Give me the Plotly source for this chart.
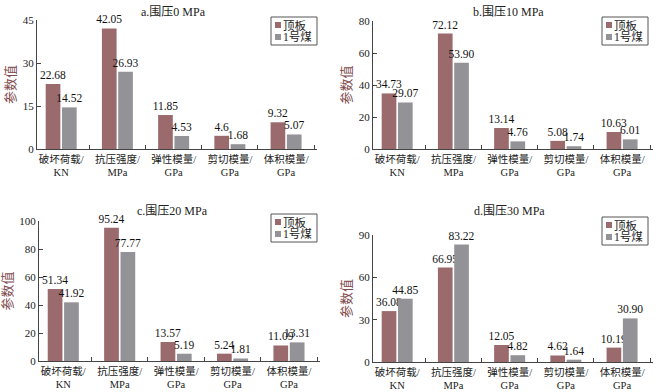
import plotly.graph_objects as go

categories = ["破坏荷载/<br>KN", "抗压强度/<br>MPa", "弹性模量/<br>GPa", "剪切模量/<br>GPa", "体积模量/<br>GPa"]
series_names = ["顶板", "1号煤"]
panel_titles = ["a.围压0 MPa", "b.围压10 MPa", "c.围压20 MPa", "d.围压30 MPa"]

roof_a = [22.68, 42.05, 11.85, 4.6, 9.32]
coal_a = [14.52, 26.93, 4.53, 1.68, 5.07]
roof_b = [34.73, 72.12, 13.14, 5.08, 10.63]
coal_b = [29.07, 53.90, 4.76, 1.74, 6.01]
roof_c = [51.34, 95.24, 13.57, 5.24, 11.09]
coal_c = [41.92, 77.77, 5.19, 1.81, 13.31]
roof_d = [36.08, 66.95, 12.05, 4.62, 10.19]
coal_d = [44.85, 83.22, 4.82, 1.64, 30.90]

roof_a_txt = ["22.68", "42.05", "11.85", "4.6", "9.32"]
coal_a_txt = ["14.52", "26.93", "4.53", "1.68", "5.07"]
roof_b_txt = ["34.73", "72.12", "13.14", "5.08", "10.63"]
coal_b_txt = ["29.07", "53.90", "4.76", "1.74", "6.01"]
roof_c_txt = ["51.34", "95.24", "13.57", "5.24", "11.09"]
coal_c_txt = ["41.92", "77.77", "5.19", "1.81", "13.31"]
roof_d_txt = ["36.08", "66.95", "12.05", "4.62", "10.19"]
coal_d_txt = ["44.85", "83.22", "4.82", "1.64", "30.90"]

y_max = [45, 80, 100, 90]
y_dtick = [15, 20, 20, 30]

W, H = 662, 392
FONT = "Liberation Serif, Noto Sans CJK SC, serif"
ROOF_COLOR = "#9a6a6c"
COAL_COLOR = "#939397"
AXIS_COLOR = "#444444"
COLORS = [ROOF_COLOR, COAL_COLOR]

# pixel layout of each panel: x0, x1, y_top, y_bottom
panels = [
    (37, 317, 20, 149),
    (373, 653, 21, 149),
    (39, 320, 221, 361),
    (373, 653, 235, 362),
]
title_pos = [(173, 12), (508, 12), (172, 211), (509, 211)]
legend_pos = [(271, 17), (602, 17), (271, 214), (602, 217)]
LEG_W, LEG_H = 46, 28

data = [
    (roof_a, coal_a, roof_a_txt, coal_a_txt),
    (roof_b, coal_b, roof_b_txt, coal_b_txt),
    (roof_c, coal_c, roof_c_txt, coal_c_txt),
    (roof_d, coal_d, roof_d_txt, coal_d_txt),
]

def px(x):
    return x / W

def py(y):
    return 1 - y / H

fig = go.Figure()
layout = {}
annotations = []
shapes = []
for i, ((r, c, rt, ct), (x0, x1, yt, yb)) in enumerate(zip(data, panels)):
    n = "" if i == 0 else str(i + 1)
    xa, ya = "x" + n, "y" + n
    for vals, txt, name, col in ((r, rt, series_names[0], ROOF_COLOR), (c, ct, series_names[1], COAL_COLOR)):
        fig.add_trace(go.Bar(
            x=categories, y=vals, name=name, text=txt,
            textposition="outside", constraintext="none", cliponaxis=False,
            textfont=dict(family=FONT, size=11.5, color="#111111"),
            marker=dict(color=col, line=dict(width=0)),
            xaxis=xa, yaxis=ya, showlegend=False,
        ))
    layout["xaxis" + n] = dict(
        domain=[px(x0), px(x1)], anchor=ya, automargin=False,
        range=[-0.43, 4.55],
        showline=True, linecolor=AXIS_COLOR, linewidth=1,
        ticks="inside", ticklen=4, tickcolor=AXIS_COLOR, tickson="boundaries",
        tickangle=0,
        tickfont=dict(family=FONT, size=10.5, color="#222222"),
        showgrid=False, zeroline=False, fixedrange=True,
    )
    layout["yaxis" + n] = dict(
        domain=[py(yb), py(yt)], anchor=xa, automargin=False,
        range=[0, y_max[i]], dtick=y_dtick[i],
        showline=True, linecolor=AXIS_COLOR, linewidth=1,
        ticks="inside", ticklen=4, tickcolor=AXIS_COLOR,
        tickfont=dict(family=FONT, size=11, color="#222222"),
        showgrid=False, zeroline=False,
        title=dict(text="参数值", font=dict(family=FONT, size=13, color="#7e4b4d"), standoff=4),
    )
    # legend box (manual)
    lx, ly = legend_pos[i]
    shapes.append(dict(type="rect", xref="paper", yref="paper",
                       x0=px(lx), x1=px(lx + LEG_W), y0=py(ly + LEG_H), y1=py(ly),
                       line=dict(color="#555555", width=1), fillcolor="white"))
    for k, (nm, col) in enumerate(zip(series_names, COLORS)):
        cy = ly + 8 + k * 12
        shapes.append(dict(type="rect", xref="paper", yref="paper",
                           x0=px(lx + 4), x1=px(lx + 10), y0=py(cy + 3), y1=py(cy - 3),
                           line=dict(width=0), fillcolor=col))
        annotations.append(dict(
            text=nm, x=px(lx + 10), y=py(cy), xref="paper", yref="paper",
            xanchor="left", yanchor="middle", showarrow=False,
            font=dict(family=FONT, size=11.5, color="#222222"),
        ))
    tx, ty = title_pos[i]
    annotations.append(dict(
        text=panel_titles[i], x=px(tx), y=py(ty), xref="paper", yref="paper",
        xanchor="center", yanchor="middle", showarrow=False,
        font=dict(family=FONT, size=12, color="#222222"),
    ))

fig.update_layout(
    **layout,
    annotations=annotations,
    shapes=shapes,
    barmode="group", bargap=0.42, bargroupgap=0.1,
    width=W, height=H, margin=dict(l=0, r=0, t=0, b=0, autoexpand=False),
    paper_bgcolor="white", plot_bgcolor="white",
    font=dict(family=FONT),
    showlegend=False,
)
fig.write_html("out.html", config={"displayModeBar": False},
               post_script="document.body.style.margin='0';document.body.style.overflow='hidden';")
